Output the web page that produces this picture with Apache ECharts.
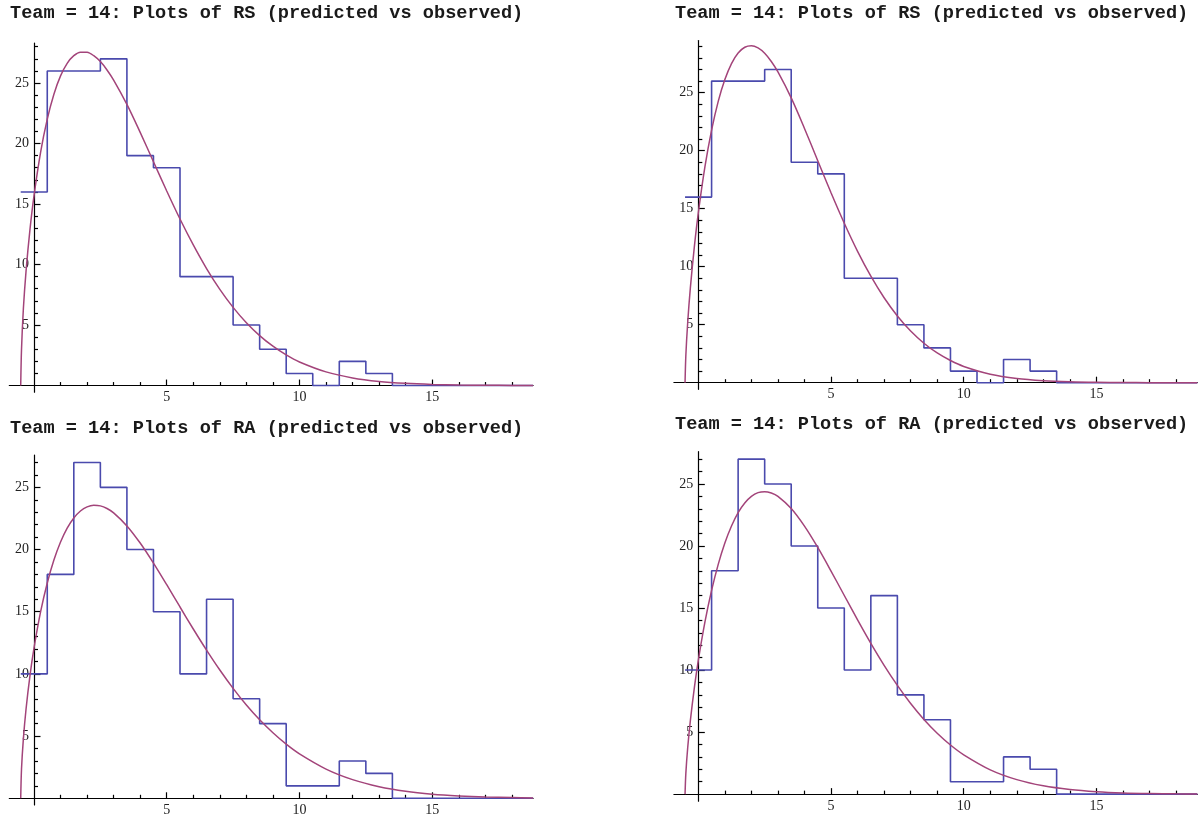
<!DOCTYPE html>
<html><head><meta charset="utf-8">
<script src="https://cdn.jsdelivr.net/npm/echarts@6/dist/echarts.min.js"></script>
<style>html,body{margin:0;padding:0;background:#fff}#c{width:1199px;height:819px}</style>
</head><body><div id="c"></div>
<script>
// ---- data ----
const bins = [0,1,2,3,4,5,6,7,8,9,10,11,12,13];
const rsObserved = [16,26,26,27,19,18,9,9,5,3,1,0,2,1];
const raObserved = [10,18,27,25,20,15,10,16,8,6,1,1,3,2];

const curveX = [-0.5,-0.47,-0.4,-0.3,-0.15,0,0.25,0.5,0.75,1,1.25,1.5,1.75,2,2.25,2.5,2.75,3,3.5,4,4.5,5,5.5,6,6.5,7,7.5,8,8.5,9,9.5,10,11,12,13,14,15,16,17,18,18.8];
const rsPredLeft  = [0,2.99,6.35,9.44,12.93,15.68,19.29,22.02,24.08,25.59,26.63,27.26,27.55,27.54,27.26,26.77,26.08,25.24,23.23,20.92,18.50,16.08,13.76,11.62,9.67,7.95,6.46,5.19,4.13,3.25,2.53,1.95,1.13,0.63,0.34,0.18,0.09,0.04,0.02,0.01,0.005];
const rsPredRight = [0,2.35,5.19,8.17,11.71,14.64,18.62,21.77,24.25,26.13,27.51,28.42,28.92,29.05,28.86,28.40,27.69,26.79,24.55,21.92,19.14,16.37,13.74,11.32,9.18,7.32,5.75,4.45,3.40,2.56,1.91,1.40,0.73,0.36,0.17,0.075,0.03,0.012,0.005,0.002,0.001];
const raPredLeft  = [0,2.35,4.78,7.16,9.88,12.07,15.00,17.31,19.15,20.60,21.72,22.54,23.10,23.43,23.56,23.51,23.30,22.95,21.90,20.52,18.91,17.17,15.38,13.61,11.91,10.31,8.84,7.50,6.31,5.27,4.35,3.57,2.35,1.50,0.93,0.56,0.33,0.19,0.10,0.055,0.03];
const raPredRight = [0,1.67,3.74,5.93,8.57,10.79,13.88,16.42,18.52,20.24,21.61,22.69,23.47,24.00,24.30,24.38,24.27,24.00,23.02,21.60,19.88,17.98,16.01,14.04,12.15,10.38,8.76,7.30,6.02,4.91,3.96,3.17,1.96,1.17,0.675,0.376,0.20,0.10,0.05,0.025,0.013];

const xMajorTicks = [5,10,15];
const yMajorTicks = [5,10,15,20,25];
const titles = [
  'Team = 14: Plots of RS (predicted vs observed)',
  'Team = 14: Plots of RS (predicted vs observed)',
  'Team = 14: Plots of RA (predicted vs observed)',
  'Team = 14: Plots of RA (predicted vs observed)'
];

// ---- layout / style ----
const panels = [
  {left:9.3,  top:43.1,  width:523.8, height:349.1, xmin:-0.93, xmax:18.8, ymin:-0.55, ymax:28.3, obs:rsObserved, pred:rsPredLeft,  tx:10,  ty:14},
  {left:673.9,top:40.5,  width:523.4, height:348.8, xmin:-0.92, xmax:18.8, ymin:-0.57, ymax:29.5, obs:rsObserved, pred:rsPredRight, tx:675, ty:14},
  {left:9.3,  top:455,   width:523.8, height:350,   xmin:-0.93, xmax:18.8, ymin:-0.54, ymax:27.6, obs:raObserved, pred:raPredLeft,  tx:10,  ty:429},
  {left:673.9,top:451.7, width:523.4, height:349.5, xmin:-0.92, xmax:18.8, ymin:-0.57, ymax:27.6, obs:raObserved, pred:raPredRight, tx:675, ty:425}
];
const blue = '#4a4aad';
const red = '#a3447a';
const labelFont = {fontFamily:'"Liberation Serif", "DejaVu Serif", serif', fontSize:14, color:'#222'};

function ints(a,b,excl){const r=[];for(let i=a;i<=b;i++){if(excl.indexOf(i)<0)r.push(i);}return r;}

const grid=[], xAxis=[], yAxis=[], series=[], graphic=[];
panels.forEach((p,i)=>{
  grid.push({left:p.left, top:p.top, width:p.width, height:p.height, containLabel:false, outerBoundsMode:'none'});
  const xMinor = ints(1, Math.floor(p.xmax), xMajorTicks);
  const yMinor = ints(1, Math.floor(p.ymax), yMajorTicks);
  // axes cross at the origin: shift them inward from the grid edges
  const yOff = -(0 - p.xmin) / (p.xmax - p.xmin) * p.width;
  const xOff = -(0 - p.ymin) / (p.ymax - p.ymin) * p.height;
  xAxis.push({gridIndex:i, type:'value', min:p.xmin, max:p.xmax, position:'bottom', offset:xOff,
    axisLine:{show:true, onZero:false, lineStyle:{color:'#000', width:1.2}},
    axisTick:{show:true, inside:true, length:6, customValues:xMajorTicks, lineStyle:{color:'#000', width:1.2}},
    axisLabel:{show:true, customValues:xMajorTicks, margin:5, ...labelFont},
    splitLine:{show:false}});
  xAxis.push({gridIndex:i, type:'value', min:p.xmin, max:p.xmax, position:'bottom', offset:xOff,
    axisLine:{show:false, onZero:false},
    axisTick:{show:true, inside:true, length:3.5, customValues:xMinor, lineStyle:{color:'#000', width:1.2}},
    axisLabel:{show:false}, splitLine:{show:false}});
  yAxis.push({gridIndex:i, type:'value', min:p.ymin, max:p.ymax, position:'left', offset:yOff,
    axisLine:{show:true, onZero:false, lineStyle:{color:'#000', width:1.2}},
    axisTick:{show:true, inside:true, length:6.5, customValues:yMajorTicks, lineStyle:{color:'#000', width:1.2}},
    axisLabel:{show:true, customValues:yMajorTicks, margin:5, ...labelFont},
    splitLine:{show:false}});
  yAxis.push({gridIndex:i, type:'value', min:p.ymin, max:p.ymax, position:'left', offset:yOff,
    axisLine:{show:false, onZero:false},
    axisTick:{show:true, inside:true, length:4, customValues:yMinor, lineStyle:{color:'#000', width:1.2}},
    axisLabel:{show:false}, splitLine:{show:false}});

  const stepData = bins.map((b,k)=>[b-0.5, p.obs[k]]);
  stepData.push([bins[bins.length-1]+0.5, 0]);
  stepData.push([p.xmax, 0]);
  series.push({type:'line', xAxisIndex:2*i, yAxisIndex:2*i, step:'end', data:stepData,
    symbol:'none', lineStyle:{color:blue, width:1.6}, z:3});
  series.push({type:'line', xAxisIndex:2*i, yAxisIndex:2*i, smooth:0.3,
    data:curveX.map((x,k)=>[x, p.pred[k]]),
    symbol:'none', lineStyle:{color:red, width:1.5}, z:4});

  graphic.push({type:'text', left:p.tx, top:p.ty-10,
    style:{text:titles[i], fill:'#1a1a1a', font:'bold 18.6px "Liberation Mono", "Courier New", monospace'}});
});

const chart = echarts.init(document.getElementById('c'), null, {renderer:'canvas'});
chart.setOption({animation:false, backgroundColor:'#fff', grid, xAxis, yAxis, series, graphic});
</script>
</body></html>
